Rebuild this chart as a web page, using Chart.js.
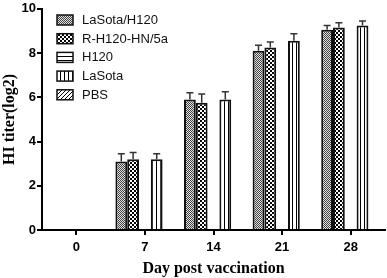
<!DOCTYPE html>
<html><head><meta charset="utf-8">
<script src="https://cdn.jsdelivr.net/npm/chart.js@4"></script>
<style>html,body{margin:0;padding:0;background:#fff}</style>
</head><body>
<canvas id="c" width="387" height="278" style="width:387px;height:278px;display:block"></canvas>
<script>
const categories=['0','7','14','21','28'];
const seriesNames=['LaSota/H120','R-H120-HN/5a','H120','LaSota','PBS'];
const laSotaH120=[0,3.1,5.9,8.1,9.05];
const rH120=[0,3.2,5.75,8.25,9.15];
const h120=[0,0,0,0,0];
const laSota=[0,3.2,5.9,8.55,9.25];
const pbs=[0,0,0,0,0];
const laSotaH120Err=[0,0.35,0.3,0.25,0.2];
const rH120Err=[0,0.3,0.4,0.25,0.22];
const h120Err=[0,0,0,0,0];
const laSotaErr=[0,0.25,0.35,0.32,0.2];
const pbsErr=[0,0,0,0,0];
const yTicks=[0,2,4,6,8,10];

function makePattern(kind){
  const c=document.createElement('canvas');
  const x=c.getContext('2d');
  if(kind==='fine'){c.width=2;c.height=2;x.fillStyle='#e0e0e0';x.fillRect(0,0,2,2);x.fillStyle='#444';x.fillRect(0,0,1,1);x.fillRect(1,1,1,1);}
  else if(kind==='coarse'){c.width=4;c.height=4;x.fillStyle='#fff';x.fillRect(0,0,4,4);x.fillStyle='#000';x.fillRect(0,0,2,2);x.fillRect(2,2,2,2);}
  else if(kind==='horiz'){c.width=4;c.height=4;x.fillStyle='#fff';x.fillRect(0,0,4,4);x.fillStyle='#000';x.fillRect(0,0,4,1);}
  else if(kind==='vert'){c.width=4;c.height=4;x.fillStyle='#fff';x.fillRect(0,0,4,4);x.fillStyle='#000';x.fillRect(0,0,1,4);}
  else {c.width=4;c.height=4;x.fillStyle='#fff';x.fillRect(0,0,4,4);x.fillStyle='#000';for(let i=0;i<4;i++){x.fillRect(i,3-i,1,1);}}
  return document.getElementById('c').getContext('2d').createPattern(c,'repeat');
}
const patterns=[makePattern('fine'),makePattern('coarse'),makePattern('horiz'),makePattern('vert'),makePattern('diag')];
const values=[laSotaH120,rH120,h120,laSota,pbs];
const errors=[laSotaH120Err,rH120Err,h120Err,laSotaErr,pbsErr];

const errorPlugin={id:'err',afterDatasetsDraw(chart){
  const ctx=chart.ctx, ys=chart.scales.y;
  ctx.save();ctx.strokeStyle='#333';ctx.lineWidth=1.5;
  chart.data.datasets.forEach((ds,di)=>{
    const meta=chart.getDatasetMeta(di);
    meta.data.forEach((el,i)=>{
      const e=ds.errors[i]; if(!e) return;
      const yt=ys.getPixelForValue(ds.data[i]+e);
      ctx.beginPath();ctx.moveTo(el.x,el.y);ctx.lineTo(el.x,yt);
      ctx.moveTo(el.x-3.5,yt);ctx.lineTo(el.x+3.5,yt);ctx.stroke();
    });
  });
  ctx.restore();
}};
const legendPlugin={id:'leg',afterDraw(chart){
  const ctx=chart.ctx;ctx.save();
  chart.data.datasets.forEach((ds,i)=>{
    const y=20+i*18.7;
    ctx.fillStyle=ds.backgroundColor;ctx.fillRect(57,y-5,16,10);
    ctx.strokeStyle='#111';ctx.lineWidth=1.5;ctx.strokeRect(57,y-5,16,10);
    ctx.fillStyle='#111';ctx.font='13px "Liberation Sans", Arial';ctx.textBaseline='middle';ctx.textAlign='left';
    ctx.fillText(ds.label,82,y+0.5);
  });
  ctx.restore();
}};

const tickFont={family:'"Liberation Sans", Arial',size:13,weight:'bold'};
new Chart(document.getElementById('c'),{
  type:'bar',
  data:{labels:categories,datasets:seriesNames.map((n,i)=>({label:n,data:values[i],errors:errors[i],backgroundColor:patterns[i],borderColor:'#111',borderWidth:2,categoryPercentage:0.86,barPercentage:1}))},
  options:{responsive:false,animation:false,devicePixelRatio:1,
    layout:{padding:{top:8,right:2,left:0,bottom:0}},
    plugins:{legend:{display:false},tooltip:{enabled:false}},
    scales:{
      x:{grid:{display:true,offset:false,drawOnChartArea:false,drawTicks:true,tickLength:5,color:'#000',lineWidth:2},
         border:{display:true,color:'#000',width:2},
         ticks:{font:tickFont,color:'#000',padding:5},
         title:{display:true,text:'Day post vaccination',font:{family:'"Liberation Serif", serif',size:16,weight:'bold'},color:'#000',padding:{top:1,bottom:0}},
         afterFit(s){s.height=48;}},
      y:{min:0,max:10,
         afterBuildTicks(s){s.ticks=yTicks.map(v=>({value:v}));},
         grid:{display:true,drawOnChartArea:false,drawTicks:true,tickLength:5,color:'#000',lineWidth:2},
         border:{display:true,color:'#000',width:2},
         ticks:{font:tickFont,color:'#000',padding:1},
         title:{display:true,text:'HI titer(log2)',font:{family:'"Liberation Serif", serif',size:16,weight:'bold'},color:'#000',padding:{top:0,bottom:0}},
         afterFit(s){s.width=42;}}
    }},
  plugins:[errorPlugin,legendPlugin]
});
</script>
</body></html>
